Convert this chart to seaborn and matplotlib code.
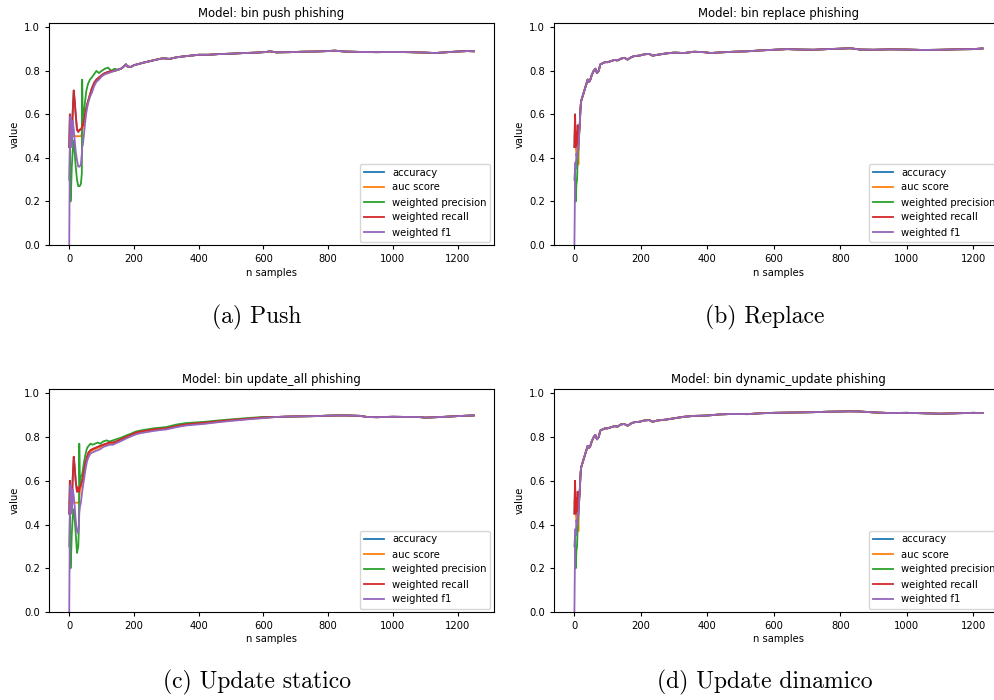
import matplotlib
matplotlib.use("Agg")
import matplotlib.pyplot as plt
import seaborn as sns

# metric names, same order in every panel
metrics = ["accuracy", "auc score", "weighted precision", "weighted recall", "weighted f1"]

# ---------------- (a) push ----------------
push_x = [0, 2, 4, 6, 8, 11, 14, 17, 20, 24, 28, 32, 36, 39, 40, 42, 45, 49, 53, 58,
          64, 70, 77, 84, 92, 100, 110, 120, 130, 140]
push_rec = [0.45, 0.60, 0.46, 0.57, 0.50, 0.62, 0.71, 0.66, 0.60, 0.53, 0.52, 0.53, 0.53, 0.54, 0.55,
            0.55, 0.57, 0.60, 0.63, 0.66, 0.69, 0.72, 0.745, 0.76, 0.77, 0.78, 0.79, 0.795, 0.80, 0.80]
push_acc = push_rec  # accuracy == weighted recall here, red sits on top of blue
push_auc = [0.50, 0.50, 0.50, 0.50, 0.50, 0.50, 0.50, 0.50, 0.50, 0.50, 0.50, 0.50, 0.50, 0.51, 0.52,
            0.54, 0.56, 0.60, 0.63, 0.66, 0.69, 0.715, 0.74, 0.755, 0.765, 0.775, 0.785, 0.79, 0.795, 0.80]
push_prec = [0.30, 0.45, 0.20, 0.27, 0.36, 0.44, 0.48, 0.42, 0.36, 0.30, 0.27, 0.27, 0.28, 0.33, 0.76,
             0.55, 0.60, 0.66, 0.71, 0.74, 0.76, 0.77, 0.785, 0.80, 0.79, 0.80, 0.81, 0.815, 0.80, 0.81]
push_f1 = [0.0, 0.45, 0.59, 0.50, 0.45, 0.57, 0.53, 0.48, 0.43, 0.39, 0.36, 0.36, 0.37, 0.42, 0.45,
           0.46, 0.50, 0.56, 0.61, 0.65, 0.68, 0.70, 0.73, 0.75, 0.76, 0.775, 0.785, 0.79, 0.795, 0.80]
push_tail_x = [150, 160, 170, 175, 180, 190, 200, 215, 230, 250, 270, 290, 310, 330, 350, 375, 400,
               430, 460, 500, 540, 580, 610, 620, 640, 680, 720, 760, 800, 820, 850, 900, 950, 1000,
               1050, 1100, 1130, 1160, 1200, 1230, 1250]
push_tail = [0.805, 0.81, 0.822, 0.83, 0.82, 0.818, 0.826, 0.832, 0.838, 0.845, 0.852, 0.858, 0.855,
             0.862, 0.866, 0.87, 0.874, 0.874, 0.877, 0.879, 0.882, 0.884, 0.887, 0.89, 0.885, 0.886,
             0.888, 0.889, 0.891, 0.893, 0.889, 0.887, 0.886, 0.887, 0.886, 0.884, 0.882, 0.885, 0.889,
             0.891, 0.89]

# ---------------- (b) replace ----------------
rep_x = [0, 2, 3, 4, 6, 8, 10, 12, 14, 16, 18, 20]
rep_rec = [0.45, 0.60, 0.50, 0.45, 0.52, 0.46, 0.55, 0.47, 0.52, 0.55, 0.62, 0.66]
rep_acc = rep_rec
rep_auc = [0.50, 0.50, 0.45, 0.45, 0.42, 0.40, 0.45, 0.37, 0.50, 0.55, 0.62, 0.66]
rep_prec = [0.30, 0.35, 0.21, 0.20, 0.28, 0.30, 0.40, 0.45, 0.50, 0.55, 0.62, 0.66]
rep_f1 = [0.0, 0.30, 0.38, 0.35, 0.42, 0.40, 0.45, 0.44, 0.50, 0.55, 0.62, 0.66]
rep_tail_x = [24, 28, 32, 36, 40, 44, 48, 52, 58, 63, 68, 73, 78, 85, 92, 100, 110, 120, 130, 140,
              150, 160, 170, 180, 195, 210, 225, 235, 250, 275, 300, 330, 360, 390, 410, 440, 480,
              520, 560, 600, 640, 680, 720, 760, 800, 830, 860, 900, 950, 1000, 1050, 1100, 1150,
              1200, 1228]
rep_tail = [0.68, 0.70, 0.72, 0.74, 0.76, 0.75, 0.76, 0.78, 0.80, 0.81, 0.79, 0.80, 0.83, 0.835, 0.84,
            0.84, 0.845, 0.85, 0.848, 0.856, 0.86, 0.852, 0.862, 0.868, 0.87, 0.876, 0.878, 0.87, 0.874,
            0.88, 0.884, 0.882, 0.888, 0.886, 0.882, 0.885, 0.888, 0.89, 0.894, 0.897, 0.90, 0.898,
            0.897, 0.90, 0.902, 0.904, 0.898, 0.897, 0.899, 0.898, 0.896, 0.897, 0.899, 0.90, 0.903]

# ---------------- (c) update_all ----------------
upd_x = [0, 2, 4, 6, 8, 11, 14, 17, 20, 24, 28, 30, 31, 33, 36, 40, 45, 50, 55, 60, 66, 72, 80, 88,
         96, 105, 115, 125, 135, 145, 160, 175, 190, 205, 220, 240, 260, 280, 300, 330, 360, 390,
         420, 460, 500, 550, 600]
upd_rec = [0.45, 0.60, 0.46, 0.57, 0.50, 0.62, 0.71, 0.66, 0.60, 0.55, 0.57, 0.55, 0.56, 0.57, 0.58,
           0.60, 0.64, 0.68, 0.71, 0.73, 0.74, 0.745, 0.75, 0.755, 0.76, 0.765, 0.77, 0.775, 0.775,
           0.78, 0.79, 0.80, 0.81, 0.82, 0.825, 0.83, 0.835, 0.838, 0.84, 0.85, 0.858, 0.862, 0.866,
           0.872, 0.878, 0.884, 0.89]
upd_acc = upd_rec
upd_auc = [0.50, 0.50, 0.50, 0.50, 0.50, 0.50, 0.50, 0.50, 0.50, 0.50, 0.50, 0.50, 0.52, 0.55, 0.57,
           0.60, 0.63, 0.67, 0.70, 0.72, 0.735, 0.74, 0.745, 0.75, 0.755, 0.76, 0.765, 0.77, 0.77,
           0.776, 0.786, 0.797, 0.806, 0.816, 0.821, 0.826, 0.831, 0.835, 0.838, 0.848, 0.855, 0.86,
           0.863, 0.87, 0.876, 0.882, 0.888]
upd_prec = [0.30, 0.45, 0.20, 0.27, 0.36, 0.44, 0.47, 0.42, 0.36, 0.27, 0.30, 0.40, 0.77, 0.58, 0.62,
            0.63, 0.68, 0.72, 0.75, 0.76, 0.77, 0.765, 0.77, 0.775, 0.77, 0.78, 0.785, 0.78, 0.785,
            0.79, 0.797, 0.807, 0.815, 0.825, 0.83, 0.835, 0.84, 0.843, 0.846, 0.857, 0.864, 0.867,
            0.87, 0.876, 0.881, 0.887, 0.892]
upd_f1 = [0.0, 0.45, 0.58, 0.50, 0.45, 0.56, 0.53, 0.48, 0.42, 0.37, 0.36, 0.40, 0.45, 0.48, 0.50,
          0.55, 0.60, 0.65, 0.69, 0.71, 0.725, 0.73, 0.735, 0.74, 0.745, 0.755, 0.76, 0.765, 0.765,
          0.772, 0.782, 0.793, 0.803, 0.812, 0.818, 0.823, 0.828, 0.832, 0.835, 0.845, 0.853, 0.857,
          0.861, 0.868, 0.874, 0.881, 0.887]
upd_tail_x = [640, 680, 720, 760, 800, 830, 860, 900, 920, 950, 1000, 1050, 1080, 1100, 1150, 1200,
              1230, 1250]
upd_tail = [0.892, 0.894, 0.895, 0.896, 0.898, 0.899, 0.899, 0.897, 0.892, 0.891, 0.893, 0.892, 0.892,
            0.889, 0.892, 0.896, 0.898, 0.899]

# ---------------- (d) dynamic_update ----------------
# first samples look the same as replace
dyn_x = rep_x
dyn_rec = rep_rec
dyn_acc = rep_acc
dyn_auc = rep_auc
dyn_prec = rep_prec
dyn_f1 = rep_f1
dyn_tail_x = rep_tail_x
dyn_tail = [0.68, 0.70, 0.72, 0.74, 0.76, 0.75, 0.76, 0.78, 0.80, 0.81, 0.79, 0.80, 0.83, 0.835, 0.84,
            0.84, 0.845, 0.85, 0.848, 0.858, 0.86, 0.852, 0.862, 0.868, 0.87, 0.876, 0.878, 0.87, 0.876,
            0.88, 0.886, 0.893, 0.897, 0.898, 0.90, 0.904, 0.906, 0.905, 0.909, 0.911, 0.912, 0.913,
            0.914, 0.916, 0.917, 0.918, 0.917, 0.913, 0.91, 0.911, 0.909, 0.907, 0.909, 0.911, 0.91]

palette = sns.color_palette("tab10", 5)

plt.rcParams["font.family"] = "DejaVu Sans"
plt.rcParams["xtick.labelsize"] = 7.2
plt.rcParams["ytick.labelsize"] = 7.2
plt.rcParams["xtick.major.size"] = 3
plt.rcParams["ytick.major.size"] = 3
plt.rcParams["axes.labelsize"] = 7.2
plt.rcParams["axes.titlesize"] = 8.4
plt.rcParams["axes.linewidth"] = 0.8


def draw_panel(ax, title, x_early, series, x_tail, tail):
    for name, vals, col in zip(metrics, series, palette):
        xs = list(x_early) + list(x_tail)
        ys = list(vals) + list(tail)
        sns.lineplot(x=xs, y=ys, ax=ax, label=name, color=col, linewidth=1.3,
                     estimator=None, sort=False)
    ax.set_ylim(0, 1.02)
    ax.set_title(title, pad=4.5)
    ax.set_xlabel("n samples", labelpad=2.5)
    ax.set_ylabel("value", labelpad=3)
    ax.legend(loc="lower right", fontsize=7.2, borderaxespad=0.35)


fig = plt.figure(figsize=(9.95, 7.0), dpi=100)
W, H = 995.0, 700.0
ax_a = fig.add_axes([49 / W, (H - 245) / H, 445 / W, 222 / H])
ax_b = fig.add_axes([554 / W, (H - 245) / H, 449 / W, 222 / H])
ax_c = fig.add_axes([49 / W, (H - 612) / H, 445 / W, 223 / H])
ax_d = fig.add_axes([554 / W, (H - 612) / H, 449 / W, 223 / H])

draw_panel(ax_a, "Model: bin push phishing", push_x,
           [push_acc, push_auc, push_prec, push_rec, push_f1], push_tail_x, push_tail)
draw_panel(ax_b, "Model: bin replace phishing", rep_x,
           [rep_acc, rep_auc, rep_prec, rep_rec, rep_f1], rep_tail_x, rep_tail)
draw_panel(ax_c, "Model: bin update_all phishing", upd_x,
           [upd_acc, upd_auc, upd_prec, upd_rec, upd_f1], upd_tail_x, upd_tail)
draw_panel(ax_d, "Model: bin dynamic_update phishing", dyn_x,
           [dyn_acc, dyn_auc, dyn_prec, dyn_rec, dyn_f1], dyn_tail_x, dyn_tail)

# latex-style subfigure captions
captions = ["(a) Push", "(b) Replace", "(c) Update statico", "(d) Update dinamico"]
cap_pos = [(257, 317), (765, 317), (257, 682), (765, 682)]
for txt, (cx, cy) in zip(captions, cap_pos):
    fig.text(cx / W, 1 - cy / H, txt, ha="center", va="center",
             family=["cmr10", "DejaVu Serif"], fontsize=17)

fig.savefig("out.png", dpi=100)
